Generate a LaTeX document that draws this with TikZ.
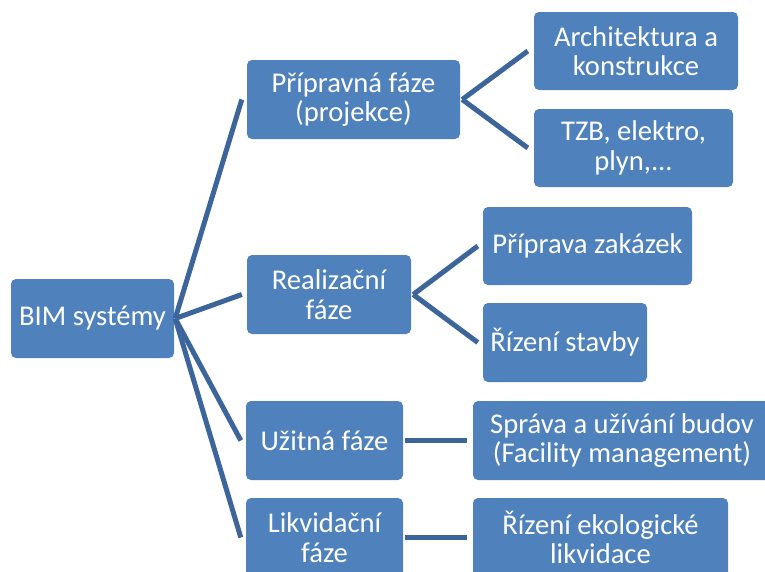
\documentclass[tikz,border=0pt]{standalone}
\usepackage{fontspec}
\setmainfont{Carlito}
\usetikzlibrary{calc}
\definecolor{boxblue}{RGB}{79,129,189}
\definecolor{linkblue}{RGB}{60,102,155}
\begin{document}
\begin{tikzpicture}[x=1pt,y=-1pt,
  box/.style={draw=none, fill=boxblue, rounded corners=5pt, text=white,
    align=center, inner sep=0pt, minimum height=79pt,
    font=\fontsize{28.6}{29.5}\selectfont},
  link/.style={draw=linkblue, line width=5pt}]
\useasboundingbox (0,0) rectangle (765,571);
\begin{scope}
\clip (0,0) rectangle (765,571);
% root
\node[box, minimum width=163pt] (bim) at (92.5,318.5) {BIM systémy};
% phases
\node[box, minimum width=213pt] (prip) at (353.5,99.5) {Přípravná fáze\\(projekce)};
\node[box, minimum width=164pt] (real) at (329,294.5) {Realizační\\fáze};
\node[box, minimum width=157pt] (uzit) at (324.5,440.5) {Užitná fáze};
\node[box, minimum width=157pt] (likv) at (324.5,537.5) {Likvidační\\fáze};
% activities
\node[box, minimum width=204pt, minimum height=78pt] (arch) at (636,51) {Architektura a\\konstrukce};
\node[box, minimum width=199pt, minimum height=78pt] (tzb) at (633.5,148) {TZB, elektro,\\plyn,...};
\node[box, minimum width=209pt, minimum height=78pt] (zak) at (587.5,246) {Příprava zakázek};
\node[box, minimum width=164pt] (stav) at (565,342.5) {Řízení stavby};
\node[box, minimum width=298pt] (sprava) at (622,440.5) {Správa a užívání budov\\(Facility management)};
\node[box, minimum width=255pt] (eko) at (600.5,537.5) {Řízení ekologické\\likvidace};
% connectors
\foreach \c in {prip,real,uzit,likv}
  \draw[link] ($(bim.east)+(1,0)$) -- ($(\c.west)+(-5,0)$);
\foreach \c in {arch,tzb}
  \draw[link] ($(prip.east)+(2,0)$) -- ($(\c.west)+(-6,0)$);
\foreach \c in {zak,stav}
  \draw[link] ($(real.east)+(2,0)$) -- ($(\c.west)+(-5,0)$);
\draw[link] ($(uzit.east)+(2,0)$) -- ($(sprava.west)+(-6,0)$);
\draw[link] ($(likv.east)+(2,0)$) -- ($(eko.west)+(-6,0)$);
\end{scope}
\end{tikzpicture}
\end{document}
